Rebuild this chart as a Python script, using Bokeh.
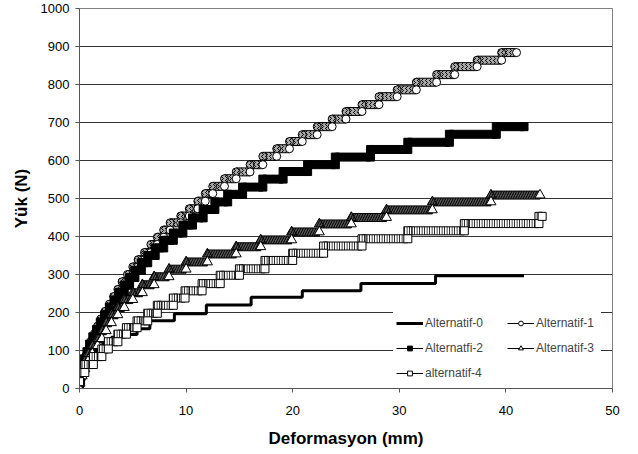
import numpy as np
from bokeh.plotting import figure
from bokeh.models import Legend, LegendItem, Range1d, FixedTicker
from bokeh.embed import file_html
from bokeh.resources import INLINE

# ---------------- data (load level and deformation at the end of each level) ----------------
x_ticks = [0, 10, 20, 30, 40, 50]
y_ticks = [0, 100, 200, 300, 400, 500, 600, 700, 800, 900, 1000]

alt0_x = [0.0, 0.3, 0.7, 1.1, 1.6, 2.2, 3.0, 4.0, 5.4, 6.6, 8.9, 11.9, 16.1, 20.9, 26.4, 33.4, 41.7]
alt0_y = [0, 20, 40, 60, 80, 100, 120, 135, 142, 157, 178, 197, 220, 240, 257, 276, 297]

alt1_x = [0.0, 0.05, 0.2, 0.4, 0.6, 0.9, 1.1, 1.4, 1.7, 2.0, 2.4, 2.8, 3.2, 3.6, 4.0, 4.5, 5.0, 5.5,
          6.1, 6.7, 7.3, 7.9, 8.5, 9.5, 10.3, 11.1, 11.8, 12.5, 13.6, 14.7, 16.0, 17.2, 18.5, 19.7,
          20.9, 22.3, 23.7, 25.0, 26.5, 28.1, 29.8, 31.6, 33.5, 35.2, 37.3, 39.6, 41.0]
alt1_y = [0, 8, 27, 47, 66, 86, 105, 125, 144, 164, 183, 203, 222, 242, 261, 281, 300, 320,
          339, 358, 379, 398, 417, 436, 454, 473, 493, 513, 532, 552, 570, 589, 611, 631,
          650, 668, 689, 709, 729, 747, 768, 786, 806, 826, 847, 864, 884]

alt2_x = [0.0, 0.1, 0.25, 0.45, 0.7, 0.95, 1.25, 1.6, 1.95, 2.35, 2.8, 3.25, 3.7, 4.2, 4.7, 5.2,
          5.8, 6.4, 7.1, 7.9, 8.8, 9.7, 10.6, 11.6, 12.7, 13.9, 15.3, 17.2, 19.1, 21.4, 24.0,
          27.3, 30.8, 34.7, 39.1, 41.7]
alt2_y = [0, 19, 39, 58, 78, 97, 117, 136, 155, 175, 194, 214, 233, 253, 272, 292,
          311, 331, 350, 370, 390, 409, 430, 449, 471, 491, 511, 530, 551, 571, 589,
          609, 629, 648, 669, 689]

alt3_x = [0.0, 0.05, 0.25, 0.5, 0.8, 1.2, 1.7, 2.1, 2.5, 3.0, 3.6, 4.2, 5.0, 5.9, 7.0, 8.4,
          10.0, 12.0, 14.7, 17.0, 19.9, 22.5, 25.5, 28.8, 33.1, 38.6, 43.2]
alt3_y = [0, 14, 33, 52, 72, 92, 113, 131, 152, 173, 194, 213, 234, 252, 273, 294,
          314, 333, 354, 373, 391, 412, 433, 450, 470, 491, 509]

alt4_x = [0.0, 0.5, 1.3, 2.1, 2.7, 3.6, 4.4, 5.4, 6.4, 7.3, 8.8, 9.9, 11.5, 13.2, 15.0, 17.4,
          20.0, 22.9, 26.5, 30.8, 36.1, 43.1, 43.4]
alt4_y = [18, 42, 63, 84, 104, 123, 143, 160, 178, 198, 219, 238, 257, 276, 298, 315,
          337, 356, 375, 394, 415, 434, 453]

labels = ["Alternatif-0", "Alternatif-1", "Alternatfi-2", "Alternatif-3", "alternatif-4"]

# ---------------- figure ----------------
FRAME_W, FRAME_H = 533, 380
FONT = "Liberation Sans"

p = figure(frame_width=FRAME_W, frame_height=FRAME_H,
           x_range=Range1d(0, 50), y_range=Range1d(0, 1000),
           output_backend="svg", toolbar_location=None,
           min_border_left=79, min_border_right=16, min_border_top=8, min_border_bottom=52)
p.background_fill_color = "white"
p.border_fill_color = "white"
p.outline_line_color = "#808080"
p.xgrid.grid_line_color = None
p.ygrid.grid_line_color = "#333333"
p.ygrid.grid_line_width = 1

p.xaxis.ticker = FixedTicker(ticks=x_ticks)
p.yaxis.ticker = FixedTicker(ticks=y_ticks)
for ax in (p.xaxis, p.yaxis):
    ax.minor_tick_line_color = None
    ax.major_tick_in = 0
    ax.major_tick_out = 4
    ax.axis_line_color = "#555555"
    ax.major_tick_line_color = "#555555"
    ax.major_label_text_font = FONT
    ax.major_label_text_font_size = "13px"
    ax.major_label_text_color = "black"
    ax.axis_label_text_font = FONT
    ax.axis_label_text_font_size = "17px"
    ax.axis_label_text_font_style = "bold"
    ax.axis_label_text_color = "black"
p.xaxis.axis_label = "Deformasyon (mm)"
p.yaxis.axis_label = "Yük (N)"
p.xaxis.major_label_standoff = 13
p.yaxis.major_label_standoff = 6
p.xaxis.axis_label_standoff = 11
p.yaxis.axis_label_standoff = 7

DX = 50.0 / FRAME_W     # data units per screen px
DY = 1000.0 / FRAME_H


def step_path(xe, ld):
    xs, ys = [], []
    prev = xe[0]
    for x, y in zip(xe, ld):
        xs += [prev, x]
        ys += [y, y]
        prev = x
    return xs, ys


def plateau_starts(xe):
    return [xe[0]] + list(xe[:-1])


# Alternatif-0 : thick step line
xs, ys = step_path(alt0_x, alt0_y)
p.line(xs, ys, line_color="black", line_width=3)


def marker_series(xe, ld, marker, size, band_h, fill, hatch, hatch_scale, end_fill):
    xs, ys = step_path(xe, ld)
    p.line(xs, ys, line_color="black", line_width=1)
    x0 = plateau_starts(xe)
    hy = band_h / 2.0 * DY
    kw = dict(fill_color=fill, line_color="black", line_width=1)
    if hatch:
        kw.update(hatch_pattern=hatch, hatch_color="black", hatch_scale=hatch_scale, hatch_weight=1)
    p.quad(left=x0, right=list(xe), bottom=[v - hy for v in ld], top=[v + hy for v in ld], **kw)
    p.scatter(x0, ld, marker=marker, size=size, **kw)
    p.scatter(list(xe), ld, marker=marker, size=size, fill_color=end_fill, line_color="black", line_width=1)


marker_series(alt1_x, alt1_y, "circle", 8, 8, "#a8a8a8", "vertical_wave", 4, "white")
marker_series(alt2_x, alt2_y, "square", 8, 8, "black", None, 1, "black")
marker_series(alt3_x, alt3_y, "triangle", 10, 8, "#555555", "right_diagonal_line", 5, "white")
marker_series(alt4_x, alt4_y, "square", 8, 8, "white", "vertical_line", 2.5, "white")

# ---------------- legend (two columns as two legends) ----------------
NAN = [np.nan]
lg0 = p.line(x=NAN, y=NAN, line_color="black", line_width=3)
items = [LegendItem(label=labels[0], renderers=[lg0])]
specs = [("circle", "white"), ("square", "black"), ("triangle", "white"), ("square", "white")]
for lab, (mk, fc) in zip(labels[1:], specs):
    l = p.line(x=NAN, y=NAN, line_color="black", line_width=1)
    s = p.scatter(x=NAN, y=NAN, marker=mk, size=9, fill_color=fc, line_color="black")
    items.append(LegendItem(label=lab, renderers=[l, s]))

common = dict(border_line_alpha=0, background_fill_color="white", background_fill_alpha=1,
              label_text_font=FONT, label_text_font_size="12px",
              glyph_width=27, glyph_height=12, label_standoff=2, padding=3,
              margin=0, spacing=5, label_height=20)
leg1 = Legend(items=[items[0], items[2], items[4]], location=(314, 2), label_width=76, **common)
leg2 = Legend(items=[items[1], items[3]], location=(425, 27), label_width=62, **common)
p.add_layout(leg1)
p.add_layout(leg2)

open("out.html", "w").write(file_html(p, INLINE))
